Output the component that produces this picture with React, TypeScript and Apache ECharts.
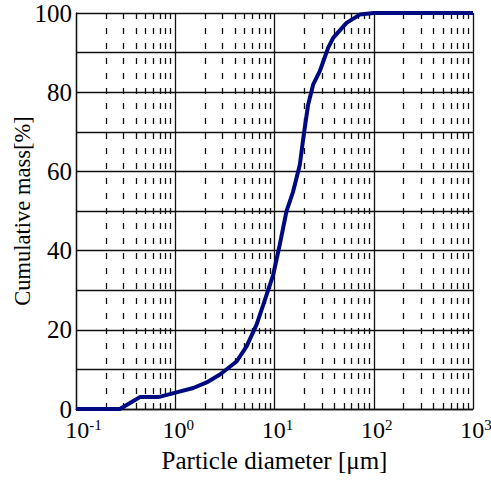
import React, { useEffect, useRef } from "react";
import * as echarts from "echarts";

// Particle size distribution (cumulative)
const diameters = [0.1, 0.277, 0.35, 0.44, 0.675, 1.03, 1.52, 2.07, 2.82, 4.15, 5.23, 6.6, 7.7, 9.7, 11.3, 13.2, 15.4, 18.0, 19.5, 21.8, 24.5, 28.6, 34.7, 39.0, 53.2, 72.4, 100, 1000];
const cumulative = [0, 0, 1.5, 3.0, 3.0, 4.2, 5.3, 6.7, 8.7, 12.0, 15.8, 21.3, 26.3, 33.9, 41.5, 49.9, 54.9, 61.7, 68.4, 76.8, 81.9, 85.3, 91.2, 93.7, 97.5, 99.6, 100, 100];

const xMin = 0.1;
const xMax = 1000;
const yTickLabels = [0, 20, 40, 60, 80, 100];
const minorMultipliers = [2, 3, 4, 5, 6, 7, 8, 9];
const decadeStarts = [0.1, 1, 10, 100];

const xTitle = "Particle diameter [μm]";
const yTitle = "Cumulative mass[%]";

const FONT = "Liberation Serif";

export default function App() {
  const ref = useRef<HTMLDivElement>(null);
  useEffect(() => {
    document.body.style.margin = "0";
    if (!ref.current) return;
    const chart = echarts.init(ref.current, null, { renderer: "svg" });

    const minorLines: { xAxis: number }[] = [];
    decadeStarts.forEach((d) =>
      minorMultipliers.forEach((m) => minorLines.push({ xAxis: +(d * m).toPrecision(6) }))
    );

    const data = diameters.map((d, i) => [d, cumulative[i]]);

    chart.setOption({
      animation: false,
      backgroundColor: "#fff",
      grid: {
        left: 76,
        right: 18,
        top: 13,
        bottom: 73,
        containLabel: false,
        outerBoundsMode: "none",
      },
      xAxis: {
        type: "log",
        logBase: 10,
        min: xMin,
        max: xMax,
        name: xTitle,
        nameLocation: "middle",
        nameGap: 39,
        nameMoveOverlap: false,
        nameTextStyle: { fontFamily: FONT, fontSize: 25, color: "#000" },
        axisLine: { show: true, onZero: false, lineStyle: { color: "#111", width: 1.3 } },
        axisTick: { show: false },
        axisLabel: {
          margin: 8,
          color: "#000",
          fontFamily: FONT,
          hideOverlap: false,
          formatter: (v: number) => {
            const e = Math.round(Math.log10(v));
            const s = String(e);
            const b = s.length > 1 ? "b2" : "b1";
            return `{${b}|10}{s|${s}}`;
          },
          rich: {
            b1: { fontSize: 24, lineHeight: 26, fontFamily: FONT, color: "#000", padding: [0, 0, 0, 6] },
            b2: { fontSize: 24, lineHeight: 26, fontFamily: FONT, color: "#000", padding: [0, 0, 0, 15] },
            s: { fontSize: 15, fontFamily: FONT, color: "#000", verticalAlign: "top" },
          },
        },
        splitLine: { show: true, lineStyle: { color: "#111", width: 1.3 } },
      },
      yAxis: {
        type: "value",
        min: 0,
        max: 100,
        interval: 10,
        name: yTitle,
        nameLocation: "middle",
        nameGap: 42,
        nameMoveOverlap: false,
        nameRotate: 90,
        nameTextStyle: { fontFamily: FONT, fontSize: 22.5, color: "#000" },
        axisLine: { show: true, lineStyle: { color: "#111", width: 1.3 } },
        axisTick: { show: false },
        axisLabel: {
          margin: 4,
          color: "#000",
          fontFamily: FONT,
          fontSize: 25,
          lineHeight: 16,
          formatter: (v: number) => (yTickLabels.includes(v) ? String(v) : ""),
        },
        splitLine: { show: true, lineStyle: { color: "#111", width: 1.3 } },
      },
      series: [
        {
          type: "line",
          data,
          showSymbol: false,
          symbol: "none",
          smooth: false,
          lineStyle: { color: "#000a80", width: 4 },
          z: 5,
          markLine: {
            silent: true,
            symbol: ["none", "none"],
            label: { show: false },
            lineStyle: { color: "#111", width: 1.3, type: [6, 9] },
            emphasis: { disabled: true },
            data: minorLines,
            z: 1,
          },
        },
      ],
    });
    return () => chart.dispose();
  }, []);
  return <div ref={ref} style={{ width: 491, height: 482 }} />;
}
